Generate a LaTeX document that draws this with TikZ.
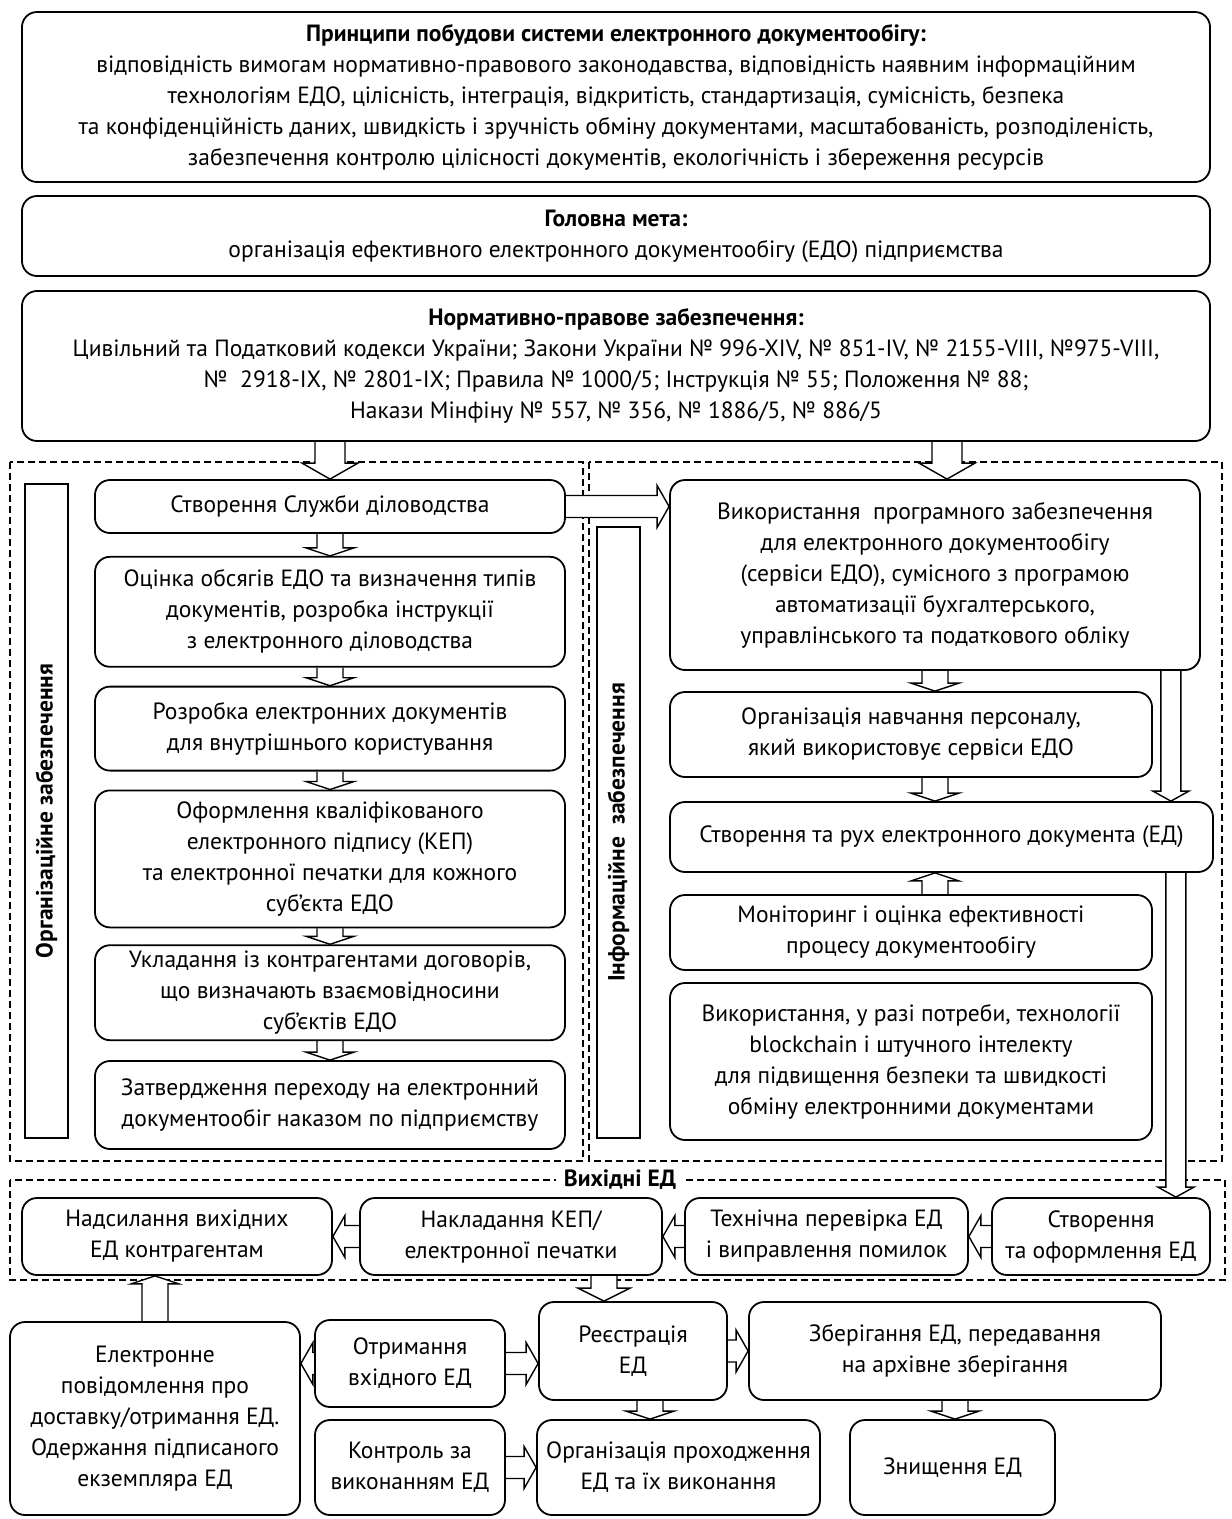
\documentclass[tikz,border=0pt]{standalone}
\usepackage{fontspec}
\setmainfont{PT Sans}
\usetikzlibrary{calc,positioning}
\pgfdeclarelayer{back}
\pgfdeclarelayer{front}
\pgfsetlayers{back,main,front}
\tikzset{
    box/.style={draw, line width=1.8pt, rounded corners=15pt, fill=white, align=center,
        inner sep=0pt, font=\fontsize{23.5}{31}\selectfont},
    dims/.style 2 args={minimum width=#1, minimum height=#2},
    tagbox/.style={draw, line width=1.8pt, fill=white, inner sep=0pt, rotate=90,
        font=\bfseries\fontsize{23.5}{31}\selectfont},
    frame/.style={line width=1.4pt, dash pattern=on 7pt off 4pt},
    % hollow block arrow: shaft half width / head half width / head length
    hollow/.style n args={3}{draw, fill=white, line width=1.4pt, to path={
        let \p1=(\tikztostart), \p2=(\tikztotarget),
            \n1={atan2(\y2-\y1,\x2-\x1)}, \n2={veclen(\x2-\x1,\y2-\y1)} in
        ($(\p1)+(\n1+90:#1)$) -- ++(\n1:\n2-#3) -- ++(\n1+90:#2-#1) -- (\p2)
        -- ($(\p2)+(\n1+180:#3)+(\n1-90:#2)$) -- ++(\n1+90:#2-#1) -- ($(\p1)+(\n1-90:#1)$)}},
    fatarrow/.style={hollow={15}{28}{16}},
    midarrow/.style={hollow={13}{24}{8}},
    sidearrow/.style={hollow={11}{21}{12}},
    thinarrow/.style={hollow={10}{18}{10}}
}

\begin{document}
\begin{tikzpicture}[x=1pt,y=1pt]
\useasboundingbox (0,0) rectangle (1232,-1519);

\begin{pgfonlayer}{front}
  % top blocks
  \node[box, dims={1188}{170}] (rules) at (616,-97) {\textbf{Принципи побудови системи електронного документообігу:}\\
    відповідність вимогам нормативно-правового законодавства, відповідність наявним інформаційним\\
    технологіям ЕДО, цілісність, інтеграція, відкритість, стандартизація, сумісність, безпека\\
    та конфіденційність даних, швидкість і зручність обміну документами, масштабованість, розподіленість,\\
    забезпечення контролю цілісності документів, екологічність і збереження ресурсів};
  \node[box, dims={1188}{80}] (goal) at (616,-236) {\textbf{Головна мета:}\\
    організація ефективного електронного документообігу (ЕДО) підприємства};
  \node[box, dims={1188}{150}] (law) at (616,-366) {\textbf{Нормативно-правове забезпечення:}\\
    Цивільний та Податковий кодекси України; Закони України № 996-XIV, № 851-IV, № 2155-VIII, №975-VIII,\\
    №~~2918-IX, № 2801-IX; Правила № 1000/5; Інструкція № 55; Положення № 88;\\
    Накази Мінфіну № 557, № 356, № 1886/5, № 886/5};

  % organisational column
  \node[tagbox, minimum width=654, minimum height=43] (orgtag) at (46.5,-811) {Організаційне забезпечення};
  \node[box, dims={470}{53}] (org1) at (330,-506.5) {Створення Служби діловодства};
  \node[box, dims={470}{110}, below=22pt of org1] (org2) {Оцінка обсягів ЕДО та визначення типів\\
    документів, розробка інструкції\\ з електронного діловодства};
  \node[box, dims={470}{84}, below=18pt of org2] (org3) {Розробка електронних документів\\
    для внутрішнього користування};
  \node[box, dims={470}{137}, below=18pt of org3] (org4) {Оформлення кваліфікованого\\
    електронного підпису (КЕП)\\ та електронної печатки для кожного\\ суб’єкта ЕДО};
  \node[box, dims={470}{95}, below=16pt of org4] (org5) {Укладання із контрагентами договорів,\\
    що визначають взаємовідносини\\ суб’єктів ЕДО};
  \node[box, dims={470}{88}, below=19pt of org5] (org6) {Затвердження переходу на електронний\\
    документообіг наказом по підприємству};

  % information column
  \node[tagbox, minimum width=611, minimum height=43] (inftag) at (618.5,-832.5) {Інформаційне~~забезпечення};
  \node[box, dims={530}{190}] (inf1) at (935,-575) {Використання~~програмного забезпечення\\
    для електронного документообігу\\ (сервіси ЕДО), сумісного з програмою\\
    автоматизації бухгалтерського,\\ управлінського та податкового обліку};
  \node[box, dims={482}{85}] (inf2) at (911,-734.5) {Організація навчання персоналу,\\
    який використовує сервіси ЕДО};
  \node[box, dims={543}{70}] (inf3) at (941.5,-837) {Створення та рух електронного документа (ЕД)};
  \node[box, dims={482}{75}] (inf4) at (911,-932.5) {Моніторинг і оцінка ефективності\\
    процесу документообігу};
  \node[box, dims={482}{157}] (inf5) at (911,-1061.5) {Використання, у разі потреби, технології\\
    blockchain і штучного інтелекту\\ для підвищення безпеки та швидкості\\
    обміну електронними документами};

  % outgoing documents
  \node[fill=white, inner xsep=8pt, inner ysep=0pt, font=\bfseries\fontsize{23.5}{31}\selectfont] (outtag) at (620,-1180) {Вихідні ЕД};
  \node[box, dims={310}{77}] (out1) at (177,-1236.5) {Надсилання вихідних\\ ЕД контрагентам};
  \node[box, dims={302}{77}] (out2) at (511,-1236.5) {Накладання КЕП/\\ електронної печатки};
  \node[box, dims={283}{77}] (out3) at (826.5,-1236.5) {Технічна перевірка ЕД\\ і виправлення помилок};
  \node[box, dims={218}{77}] (out4) at (1101,-1236.5) {Створення\\ та оформлення ЕД};

  % bottom blocks
  \node[box, dims={290}{193}] (notice) at (155,-1418.5) {Електронне\\ повідомлення про\\
    доставку/отримання ЕД.\\ Одержання підписаного\\ екземпляра ЕД};
  \node[box, dims={190}{87}] (receive) at (410,-1363.5) {Отримання\\ вхідного ЕД};
  \node[box, dims={190}{95}] (control) at (410,-1467.5) {Контроль за\\ виконанням ЕД};
  \node[box, dims={188}{98}] (reg) at (633,-1351) {Реєстрація\\ ЕД};
  \node[box, dims={283}{95}] (exec) at (678.5,-1467.5) {Організація проходження\\ ЕД та їх виконання};
  \node[box, dims={412}{98}] (store) at (955,-1351) {Зберігання ЕД, передавання\\ на архівне зберігання};
  \node[box, dims={205}{95}] (destroy) at (952.5,-1467.5) {Знищення ЕД};
\end{pgfonlayer}

\begin{pgfonlayer}{back}
  \draw[frame] (10,-462) rectangle (583,-1161);
  \draw[frame] (589,-462) rectangle (1222,-1161);
  \draw[frame] (10,-1180) rectangle (1225,-1280);
\end{pgfonlayer}

% connectors
\draw[fatarrow] (law.south -| org1.north) to (org1.north);
\coordinate (t1) at ($(inf1.north)+(12,0)$);
\draw[fatarrow] (law.south -| t1) to (t1);
\foreach \a/\b in {org1/org2, org2/org3, org3/org4, org4/org5, org5/org6}
  \draw[midarrow] (\a.south) to (\b.north);
\draw[sidearrow] (org1.east) to (org1.east -| inf1.west);

\draw[midarrow] (inf1.south) to (inf1.south |- inf2.north);
\draw[midarrow] (inf1.south |- inf2.south) to (inf1.south |- inf3.north);
\draw[midarrow] (inf1.south |- inf4.north) to (inf1.south |- inf3.south);
\coordinate (d1) at ($(inf1.south east)+(-30,0)$);
\draw[thinarrow] (d1) to (d1 |- inf3.north);
\coordinate (d2) at ($(inf3.south east)+(-38,0)$);
\draw[thinarrow] (d2) to (d2 |- out4.north);

\draw[sidearrow] (out4.west) to (out3.east);
\draw[sidearrow] (out3.west) to (out2.east);
\draw[sidearrow] (out2.west) to (out1.east);
\coordinate (d3) at ($(out2.south)+(93,0)$);
\draw[hollow={13}{26}{13}] (d3) to (d3 |- reg.north);
\draw[midarrow] (notice.north) to (notice.north |- out1.south);

\draw[sidearrow] (receive.west) to (receive.west -| notice.east);
\draw[sidearrow] (receive.east) to (receive.east -| reg.west);
\draw[sidearrow] (control.east) to (control.east -| exec.west);
\draw[sidearrow] (reg.east) to (reg.east -| store.west);
\coordinate (d4) at ($(reg.south)+(17,0)$);
\draw[midarrow] (d4) to (d4 |- exec.north);
\draw[midarrow] (store.south) to (store.south |- destroy.north);
\end{tikzpicture}
\end{document}
